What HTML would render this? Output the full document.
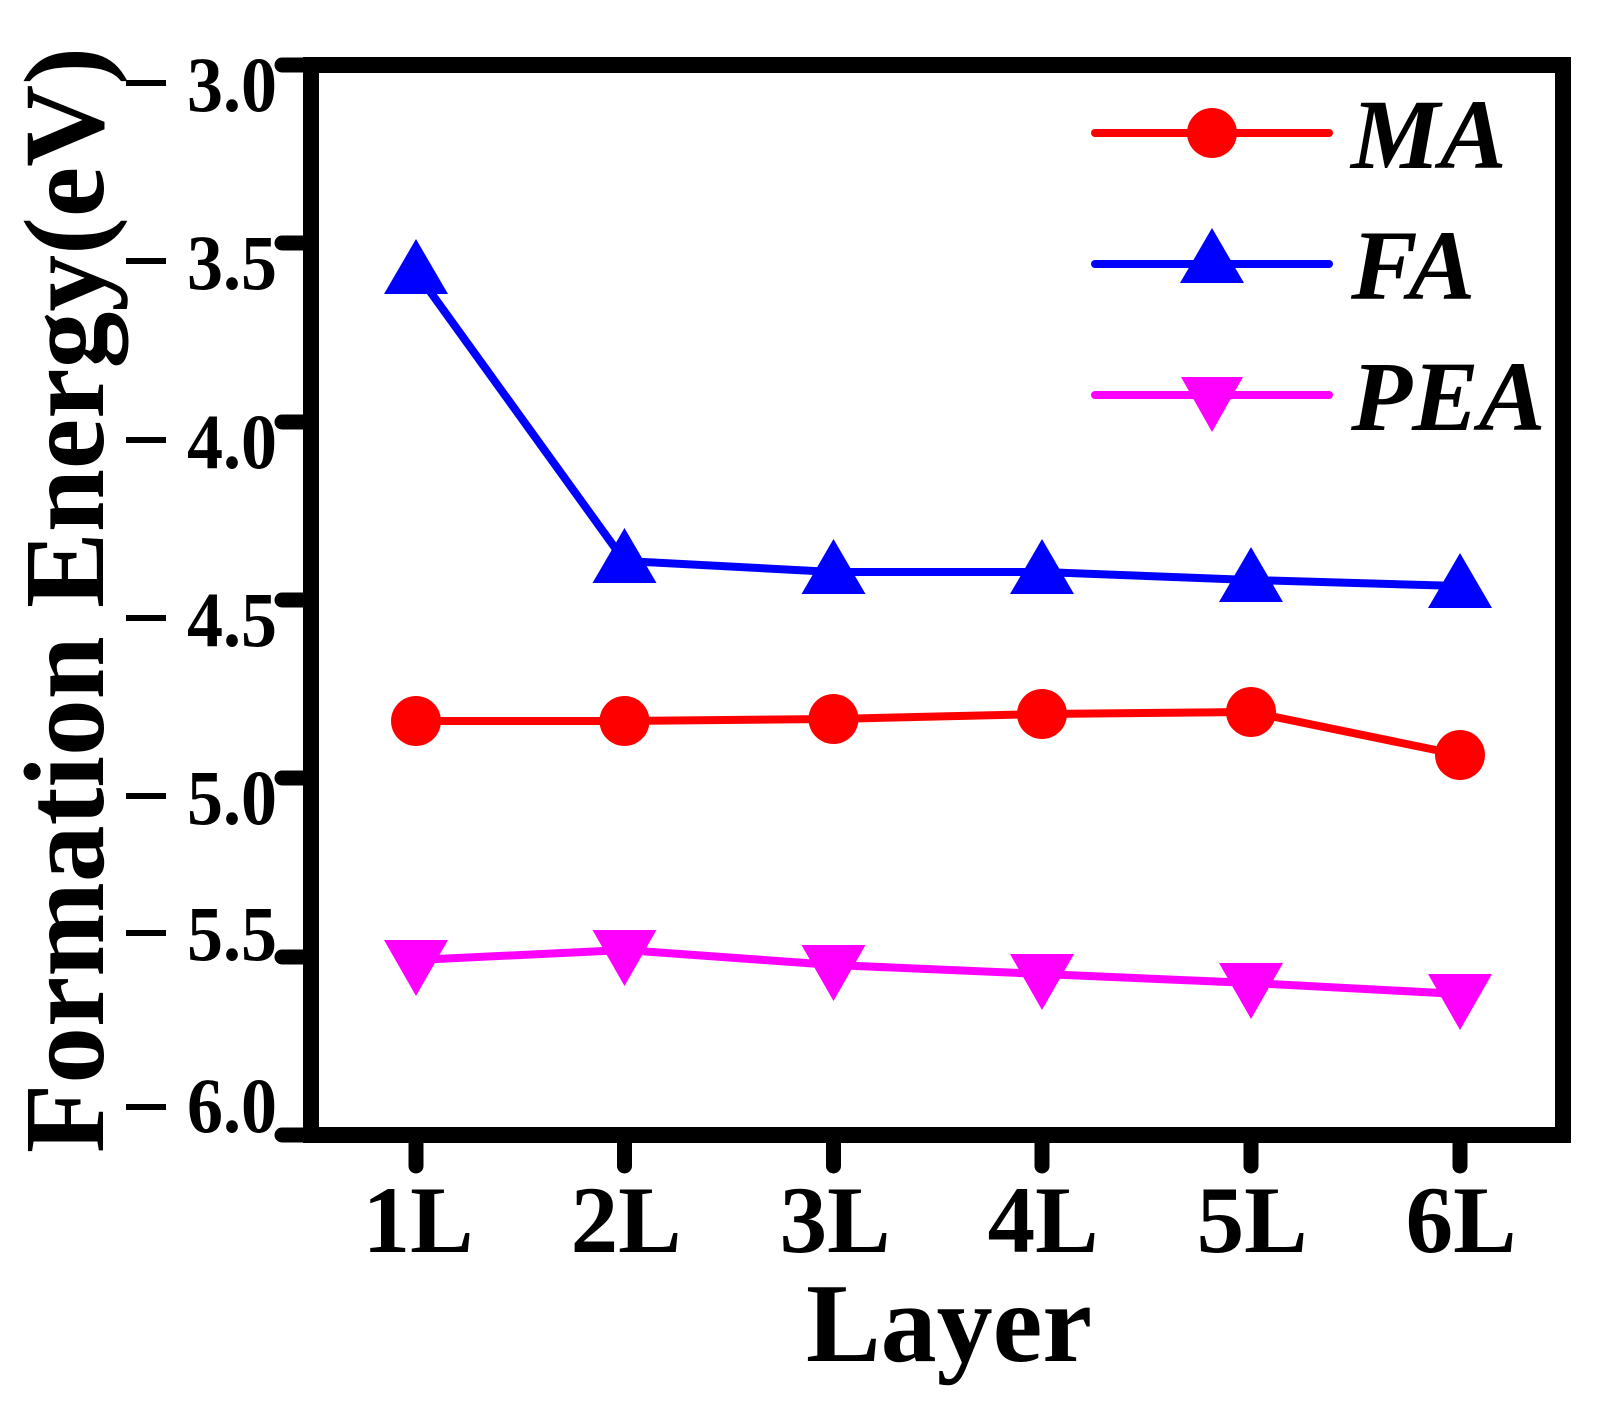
<!DOCTYPE html>
<html><head><meta charset="utf-8"><style>html,body{margin:0;padding:0;background:#fff}svg{display:block}</style></head>
<body>
<svg width="1608" height="1411" viewBox="0 0 1608 1411" xmlns="http://www.w3.org/2000/svg" font-family="'Liberation Serif', serif" font-weight="bold">
<rect width="1608" height="1411" fill="#fff"/>
<!-- ticks -->
<g stroke="#000" stroke-width="15" stroke-linecap="round">
<line x1="282" y1="65" x2="311" y2="65"/><line x1="282" y1="243" x2="311" y2="243"/><line x1="282" y1="422" x2="311" y2="422"/><line x1="282" y1="600" x2="311" y2="600"/><line x1="282" y1="778" x2="311" y2="778"/><line x1="282" y1="957" x2="311" y2="957"/><line x1="282" y1="1135" x2="311" y2="1135"/>
<line x1="416" y1="1135" x2="416" y2="1166"/><line x1="624.5" y1="1135" x2="624.5" y2="1166"/><line x1="833.5" y1="1135" x2="833.5" y2="1166"/><line x1="1042" y1="1135" x2="1042" y2="1166"/><line x1="1251" y1="1135" x2="1251" y2="1166"/><line x1="1460" y1="1135" x2="1460" y2="1166"/>
</g>
<rect x="311" y="65" width="1252" height="1070" fill="none" stroke="#000" stroke-width="16"/>
<!-- y labels -->
<g font-size="78" text-anchor="end">
<text x="277" y="111" textLength="90" lengthAdjust="spacingAndGlyphs">3.0</text><text x="277" y="289" textLength="90" lengthAdjust="spacingAndGlyphs">3.5</text><text x="277" y="468" textLength="90" lengthAdjust="spacingAndGlyphs">4.0</text><text x="277" y="646" textLength="90" lengthAdjust="spacingAndGlyphs">4.5</text><text x="277" y="824" textLength="90" lengthAdjust="spacingAndGlyphs">5.0</text><text x="277" y="960" textLength="90" lengthAdjust="spacingAndGlyphs">5.5</text><text x="277" y="1132" textLength="90" lengthAdjust="spacingAndGlyphs">6.0</text>
</g>
<g fill="#000">
<rect x="126" y="80" width="40" height="6"/><rect x="126" y="258" width="40" height="6"/><rect x="126" y="437" width="40" height="6"/><rect x="126" y="615" width="40" height="6"/><rect x="126" y="793" width="40" height="6"/><rect x="126" y="930" width="40" height="6"/><rect x="126" y="1104" width="40" height="6"/>
</g>
<!-- x labels -->
<g font-size="95" text-anchor="middle">
<text x="418" y="1252">1L</text><text x="626" y="1252">2L</text><text x="835" y="1252">3L</text><text x="1043" y="1252">4L</text><text x="1252" y="1252">5L</text><text x="1461" y="1252">6L</text>
</g>
<text x="949" y="1361" font-size="112" text-anchor="middle">Layer</text>
<text transform="translate(103,1153) rotate(-90)" font-size="114" textLength="1106" lengthAdjust="spacingAndGlyphs">Formation Energy(eV)</text>
<!-- series -->
<g fill="none" stroke-width="8" stroke-linejoin="round">
<polyline stroke="#0000ff" points="416,272 624.5,561 833.5,572 1042,572 1251,580 1460,586"/>
<polyline stroke="#ff0000" points="416,721 624.5,721 833.5,719 1042,714 1251,712 1460,755"/>
<polyline stroke="#ff00ff" points="416,960 624.5,950 833.5,965 1042,974 1251,983 1460,994"/>
</g>
<g fill="#0000ff">
<polygon points="416,239 448,294 384,294"/><polygon points="624.5,528 656.5,583 592.5,583"/><polygon points="833.5,539 865.5,594 801.5,594"/><polygon points="1042,539 1074,594 1010,594"/><polygon points="1251,547 1283,602 1219,602"/><polygon points="1460,553 1492,608 1428,608"/>
</g>
<g fill="#ff0000">
<circle cx="416" cy="721" r="25"/><circle cx="624.5" cy="721" r="25"/><circle cx="833.5" cy="719" r="25"/><circle cx="1042" cy="714" r="25"/><circle cx="1251" cy="712" r="25"/><circle cx="1460" cy="755" r="25"/>
</g>
<g fill="#ff00ff">
<polygon points="384,940 448,940 416,996"/><polygon points="592.5,930 656.5,930 624.5,986"/><polygon points="801.5,945 865.5,945 833.5,1001"/><polygon points="1010,954 1074,954 1042,1010"/><polygon points="1219,963 1283,963 1251,1019"/><polygon points="1428,974 1492,974 1460,1030"/>
</g>
<!-- legend -->
<g stroke-width="8" stroke-linecap="round">
<line x1="1095" y1="133" x2="1329" y2="133" stroke="#ff0000"/>
<line x1="1095" y1="264" x2="1329" y2="264" stroke="#0000ff"/>
<line x1="1095" y1="395" x2="1329" y2="395" stroke="#ff00ff"/>
</g>
<circle cx="1212" cy="133" r="25" fill="#ff0000"/>
<polygon points="1212,228 1244,283 1180,283" fill="#0000ff"/>
<polygon points="1181,377 1243,377 1212,432" fill="#ff00ff"/>
<g font-size="100" font-style="italic">
<text x="1351" y="168">MA</text><text x="1351" y="299">FA</text><text x="1351" y="430">PEA</text>
</g>
</svg>
</body></html>
